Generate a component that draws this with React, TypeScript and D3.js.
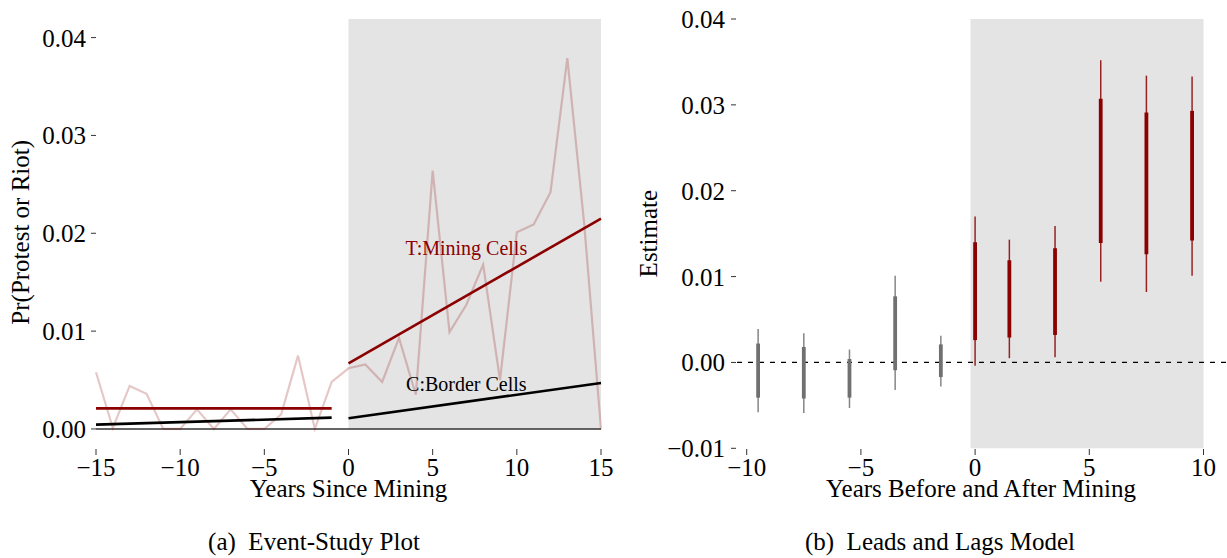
import * as d3 from "d3";

// panel (a): raw yearly rate of protest/riot in mining cells
const eventYears = [-15, -14, -13, -12, -11, -10, -9, -8, -7, -6, -5, -4, -3, -2, -1, 0, 1, 2, 3, 4, 5, 6, 7, 8, 9, 10, 11, 12, 13, 14, 15];
const rawRate = [0.0058, 0.0001, 0.0044, 0.0036, 0, 0, 0.002, 0, 0.002, 0, 0, 0.0015, 0.0075, 0, 0.0048, 0.0062, 0.0066, 0.0048, 0.0093, 0.0035, 0.0264, 0.0099, 0.0127, 0.0168, 0.005, 0.0201, 0.0209, 0.0242, 0.0379, 0.021, 0];

// fitted lines, endpoints
const preYears = [-15, -1];
const postYears = [0, 15];
const miningPre = [0.0021, 0.0021];
const miningPost = [0.0067, 0.0215];
const borderPre = [0.00044, 0.00116];
const borderPost = [0.0011, 0.0047];

const xTicksA = [-15, -10, -5, 0, 5, 10, 15];
const yTicksA = [0, 0.01, 0.02, 0.03, 0.04];

// panel (b): leads and lags estimates
const lagX = [-9.5, -7.5, -5.5, -3.5, -1.5, 0, 1.5, 3.5, 5.5, 7.5, 9.5];
const ciLow = [-0.0058, -0.0059, -0.0053, -0.0032, -0.0028, -0.0004, 0.0005, 0.0006, 0.0094, 0.0082, 0.0101];
const ciHigh = [0.0039, 0.0034, 0.0015, 0.0101, 0.0031, 0.017, 0.0143, 0.0159, 0.0352, 0.0334, 0.0333];
const innerLow = [-0.0041, -0.0042, -0.0041, -0.0009, -0.0017, 0.0026, 0.0029, 0.0032, 0.0139, 0.0126, 0.0142];
const innerHigh = [0.0022, 0.0018, 0.0004, 0.0077, 0.0021, 0.014, 0.0119, 0.0133, 0.0307, 0.0291, 0.0293];

const xTicksB = [-10, -5, 0, 5, 10];
const yTicksB = [-0.01, 0, 0.01, 0.02, 0.03, 0.04];

const FONT = "'Liberation Serif', 'DejaVu Serif', serif";
const RED = "#8b0000";
const GREY = "#707070";
const SHADE = "#e4e4e4";

const fmtNum = (v: number, digits: number) => {
  const s = Math.abs(v).toFixed(digits);
  return v < 0 ? "\u2212" + s : s;
};

export default function App() {
  // scales for (a)
  const xA = d3.scaleLinear().domain([-15, 15]).range([96, 601]);
  const yA = d3.scaleLinear().domain([-0.0017, 0.0419]).range([445.6, 19]);
  // scales for (b)
  const xB = d3.scaleLinear().domain([-10, 10]).range([746.7, 1203.5]);
  const yB = d3.scaleLinear().domain([-0.01, 0.04]).range([448.3, 19]);

  const lineA = d3
    .line<[number, number]>()
    .x((d) => xA(d[0]))
    .y((d) => yA(d[1]));

  const rawPts = eventYears.map((yr, i) => [yr, rawRate[i]] as [number, number]);
  const seg = (xs: number[], ys: number[]) => xs.map((x, i) => [x, ys[i]] as [number, number]);

  const tickLen = 5;
  const tickLabelSize = 25;

  return (
    <svg
      width={1227}
      height={558}
      style={{ position: "absolute", left: 0, top: 0, background: "#fff" }}
      fontFamily={FONT}
    >
      {/* ---------- panel (a) ---------- */}
      <rect
        x={xA(0)}
        y={yA(yA.domain()[1])}
        width={xA(15) - xA(0)}
        height={yA(0) - yA(yA.domain()[1])}
        fill={SHADE}
      />
      <line x1={xA(-15)} x2={xA(15)} y1={yA(0)} y2={yA(0)} stroke="#333" strokeWidth={1.6} />
      <path d={lineA(rawPts) ?? ""} fill="none" stroke={RED} strokeOpacity={0.22} strokeWidth={2.2} />
      <path d={lineA(seg(preYears, miningPre)) ?? ""} stroke={RED} strokeWidth={2.6} />
      <path d={lineA(seg(postYears, miningPost)) ?? ""} stroke={RED} strokeWidth={2.6} />
      <path d={lineA(seg(preYears, borderPre)) ?? ""} stroke="#000" strokeWidth={2.6} />
      <path d={lineA(seg(postYears, borderPost)) ?? ""} stroke="#000" strokeWidth={2.6} />
      <text x={xA(7)} y={yA(0.0185) + 7} fontSize={20} fill={RED} textAnchor="middle">
        T:Mining Cells
      </text>
      <text x={xA(7)} y={yA(0.0046) + 7} fontSize={20} fill="#000" textAnchor="middle">
        C:Border Cells
      </text>

      {yTicksA.map((t) => (
        <g key={"ya" + t}>
          <line x1={91} x2={91 + tickLen} y1={yA(t)} y2={yA(t)} stroke="#333" strokeWidth={1} />
          <text x={86} y={yA(t) + 9} fontSize={tickLabelSize} textAnchor="end">
            {fmtNum(t, 2)}
          </text>
        </g>
      ))}
      {xTicksA.map((t) => (
        <g key={"xa" + t}>
          <line x1={xA(t)} x2={xA(t)} y1={449} y2={455} stroke="#333" strokeWidth={1} />
          <text x={xA(t)} y={476} fontSize={tickLabelSize} textAnchor="middle">
            {fmtNum(t, 0)}
          </text>
        </g>
      ))}
      <text x={xA(0)} y={497} fontSize={25} textAnchor="middle">
        Years Since Mining
      </text>
      <text transform={`translate(29,${(yA.range()[0] + yA.range()[1]) / 2}) rotate(-90)`} fontSize={25} textAnchor="middle">
        Pr(Protest or Riot)
      </text>
      <text x={314} y={550} fontSize={25} textAnchor="middle">
        (a)&#8194;Event-Study Plot
      </text>

      {/* ---------- panel (b) ---------- */}
      <rect
        x={xB(-0.2)}
        y={yB(0.04)}
        width={xB(10) - xB(-0.2)}
        height={yB(-0.01) - yB(0.04)}
        fill={SHADE}
      />
      <line x1={737} x2={1227} y1={yB(0)} y2={yB(0)} stroke="#000" strokeWidth={1.3} strokeDasharray="5,6" />
      {lagX.map((x, i) => {
        const c = x < 0 ? GREY : RED;
        return (
          <g key={"lag" + x}>
            <line x1={xB(x)} x2={xB(x)} y1={yB(ciLow[i])} y2={yB(ciHigh[i])} stroke={c} strokeWidth={1.5} strokeOpacity={0.85} />
            <line x1={xB(x)} x2={xB(x)} y1={yB(innerLow[i])} y2={yB(innerHigh[i])} stroke={c} strokeWidth={3.8} />
          </g>
        );
      })}

      {yTicksB.map((t) => (
        <g key={"yb" + t}>
          <line x1={731} x2={731 + tickLen} y1={yB(t)} y2={yB(t)} stroke="#333" strokeWidth={1} />
          <text x={725} y={yB(t) + 9} fontSize={tickLabelSize} textAnchor="end">
            {fmtNum(t, 2)}
          </text>
        </g>
      ))}
      {xTicksB.map((t) => (
        <g key={"xb" + t}>
          <line x1={xB(t)} x2={xB(t)} y1={449} y2={455} stroke="#333" strokeWidth={1} />
          <text x={xB(t)} y={476} fontSize={tickLabelSize} textAnchor="middle">
            {fmtNum(t, 0)}
          </text>
        </g>
      ))}
      <text x={981} y={497} fontSize={25} textAnchor="middle">
        Years Before and After Mining
      </text>
      <text transform={`translate(657,${(yB.range()[0] + yB.range()[1]) / 2}) rotate(-90)`} fontSize={25} textAnchor="middle">
        Estimate
      </text>
      <text x={940} y={550} fontSize={25} textAnchor="middle">
        (b)&#8194;Leads and Lags Model
      </text>
    </svg>
  );
}
